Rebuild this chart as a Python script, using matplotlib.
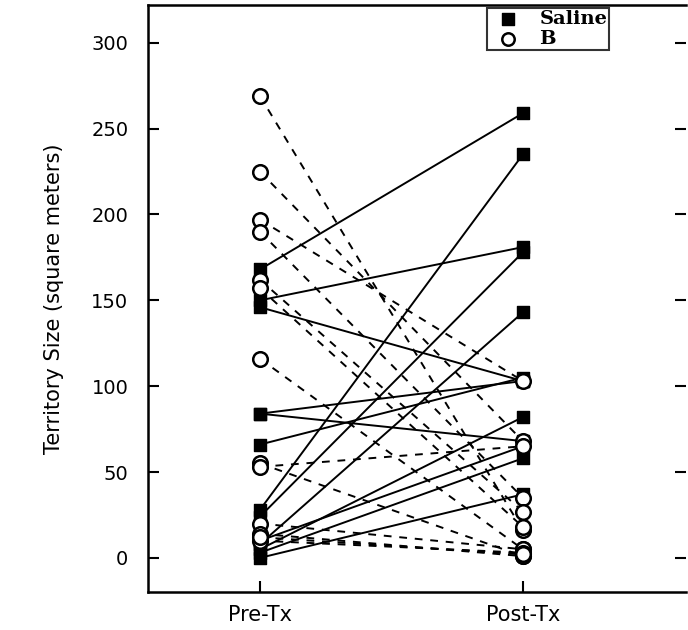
import numpy as np
import matplotlib.pyplot as plt

# %% Daten

saline_pre = [168, 150, 146, 84, 84, 66, 28, 24, 8, 5, 10, 3, 0]
saline_post = [259, 181, 103, 103, 68, 105, 235, 178, 143, 82, 65, 58, 37]

b_pre = [269, 225, 197, 190, 162, 157, 116, 55, 53, 20, 14, 10, 12]
b_post = [16, 68, 103, 35, 27, 18, 5, 1, 65, 5, 1, 3, 2]

x_labels = ['Pre-Tx', 'Post-Tx']
y_ticks = [0, 50, 100, 150, 200, 250, 300]

# %% Plot

fig = plt.figure(figsize=(6.88, 6.30), dpi=100)
ax = fig.add_axes([0.215, 0.06, 0.782, 0.932])

for a, b in zip(saline_pre, saline_post):
    ax.plot([0, 1], [a, b], color='black', lw=1.4, ls='-', zorder=2)
for a, b in zip(b_pre, b_post):
    ax.plot([0, 1], [a, b], color='black', lw=1.4, ls=(0, (4, 4)), zorder=2)

ax.scatter(np.zeros(len(saline_pre)), saline_pre, marker='s', s=75,
           color='black', zorder=3)
ax.scatter(np.ones(len(saline_post)), saline_post, marker='s', s=75,
           color='black', zorder=3)
ax.scatter(np.zeros(len(b_pre)), b_pre, marker='o', s=110,
           facecolor='white', edgecolor='black', linewidth=1.8, zorder=4)
ax.scatter(np.ones(len(b_post)), b_post, marker='o', s=110,
           facecolor='white', edgecolor='black', linewidth=1.8, zorder=4)

# Legende
h1 = ax.scatter([], [], marker='s', s=70, color='black')
h2 = ax.scatter([], [], marker='o', s=80, facecolor='white',
                edgecolor='black', linewidth=1.8)
leg = ax.legend([h1, h2], ['Saline', 'B'], loc='upper left',
                bbox_to_anchor=(0.63, 0.995), frameon=True, fancybox=False,
                edgecolor='black', borderpad=0.1, handletextpad=0.6,
                labelspacing=0.1, borderaxespad=0,
                prop={'family': 'DejaVu Serif', 'weight': 'bold', 'size': 14})
leg.get_frame().set_linewidth(1.5)

ax.set_xlim(-0.426, 1.62)
ax.set_ylim(-20, 322)
ax.set_xticks([0, 1])
ax.set_xticklabels(x_labels)
ax.set_yticks(y_ticks)
ax.tick_params(direction='in', length=8, width=1.5, labelsize=14,
               right=True, top=False)
ax.tick_params(axis='y', pad=14)
ax.tick_params(axis='x', pad=9, labelsize=15)
ax.spines['right'].set_visible(False)
for s in ['left', 'top', 'bottom']:
    ax.spines[s].set_linewidth(1.8)
ax.set_ylabel('Territory Size (square meters)', fontsize=15, labelpad=20)

fig.savefig('out.png', dpi=100)
